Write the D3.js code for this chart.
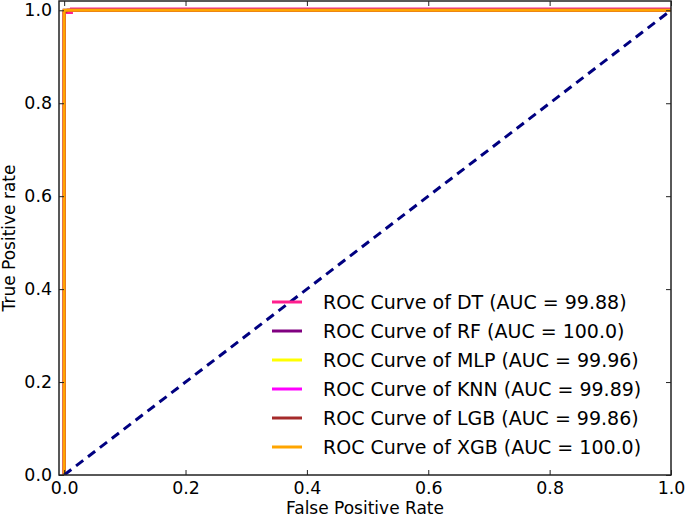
<!DOCTYPE html>
<html><head><meta charset="utf-8">
<script src="https://cdn.jsdelivr.net/npm/d3@7"></script>
<style>body{margin:0;background:#fff}svg{font-family:"DejaVu Sans",sans-serif}</style>
</head><body><svg id="c" width="685" height="519"></svg>
<script>
const models = ["DT","RF","MLP","KNN","LGB","XGB"];
const aucs = ["99.88","100.0","99.96","99.89","99.86","100.0"];
const colors = ["#ff1f8e","#800080","#ffff00","#ff00ff","#a52a2a","#ffa500"];
// ROC points [fpr, tpr] per model (estimated)
const rocDT  = [[0,0],[0,0.995],[0.012,0.995],[0.012,1.003],[1,1.003]];
const rocRF  = [[0,0],[0,1],[1,1]];
const rocMLP = [[0,0],[0,0.998],[0.004,1],[1,1]];
const rocKNN = [[0,0],[0,0.997],[0.005,1],[1,1]];
const rocLGB = [[0,0],[0,0.996],[0.006,1],[1,1]];
const rocXGB = [[0,0],[0,1],[1,1]];
const rocs = [rocDT,rocRF,rocMLP,rocKNN,rocLGB,rocXGB];
const ticks = [0,0.2,0.4,0.6,0.8,1.0];

const svg = d3.select("#c");
const L=59,R=671,T=1,B=475;
const x = d3.scaleLinear().domain([-0.0085,1]).range([L,R]);
const y = d3.scaleLinear().domain([0,1.02]).range([B,T]);
const g = svg.append("g");
svg.append("clipPath").attr("id","cp").append("rect").attr("x",L).attr("y",T).attr("width",R-L).attr("height",B-T);
const line = d3.line().x(d=>x(d[0])).y(d=>y(d[1]));
const plot = g.append("g").attr("clip-path","url(#cp)");
rocs.forEach((r,i)=>{
  plot.append("path").attr("d",line(r)).attr("fill","none").attr("stroke",colors[i]).attr("stroke-width",3);
});
plot.append("path").attr("d",line([[0,0],[1,1]])).attr("fill","none").attr("stroke","#000080").attr("stroke-width",3).attr("stroke-dasharray","9,6");

// frame
g.append("rect").attr("x",L).attr("y",T).attr("width",R-L).attr("height",B-T).attr("fill","none").attr("stroke","#222").attr("stroke-width",1.5);
// axes with inward ticks
const fmt = d3.format(".1f");
const ax = g.append("g").attr("transform",`translate(0,${B})`).call(d3.axisBottom(x).tickValues(ticks).tickFormat(fmt).tickSizeInner(-5).tickSizeOuter(0).tickPadding(7));
const axT = g.append("g").attr("transform",`translate(0,${T})`).call(d3.axisTop(x).tickValues(ticks).tickFormat("").tickSizeInner(-5).tickSizeOuter(0));
const ay = g.append("g").attr("transform",`translate(${L},0)`).call(d3.axisLeft(y).tickValues(ticks).tickFormat(fmt).tickSizeInner(-5).tickSizeOuter(0).tickPadding(7));
const ayR = g.append("g").attr("transform",`translate(${R},0)`).call(d3.axisRight(y).tickValues(ticks).tickFormat("").tickSizeInner(-5).tickSizeOuter(0));
[ax,axT,ay,ayR].forEach(a=>{a.select(".domain").remove();a.selectAll("line").attr("stroke","#222").attr("stroke-width",1);a.selectAll("text").attr("font-size",17.4).attr("fill","#000").attr("font-family","DejaVu Sans")});

svg.append("text").attr("x",(L+R)/2).attr("y",514).attr("text-anchor","middle").attr("font-size",17).text("False Positive Rate");
svg.append("text").attr("transform",`translate(15,${(T+B)/2}) rotate(-90)`).attr("text-anchor","middle").attr("font-size",17).text("True Positive rate");

// legend
const lg = svg.append("g");
models.forEach((m,i)=>{
  const yy = 302 + i*29;
  lg.append("line").attr("x1",272).attr("x2",302).attr("y1",yy).attr("y2",yy).attr("stroke",colors[i]).attr("stroke-width",3);
  lg.append("text").attr("x",323).attr("y",yy+7).attr("font-size",19).text(`ROC Curve of ${m} (AUC = ${aucs[i]})`);
});
</script></body></html>
